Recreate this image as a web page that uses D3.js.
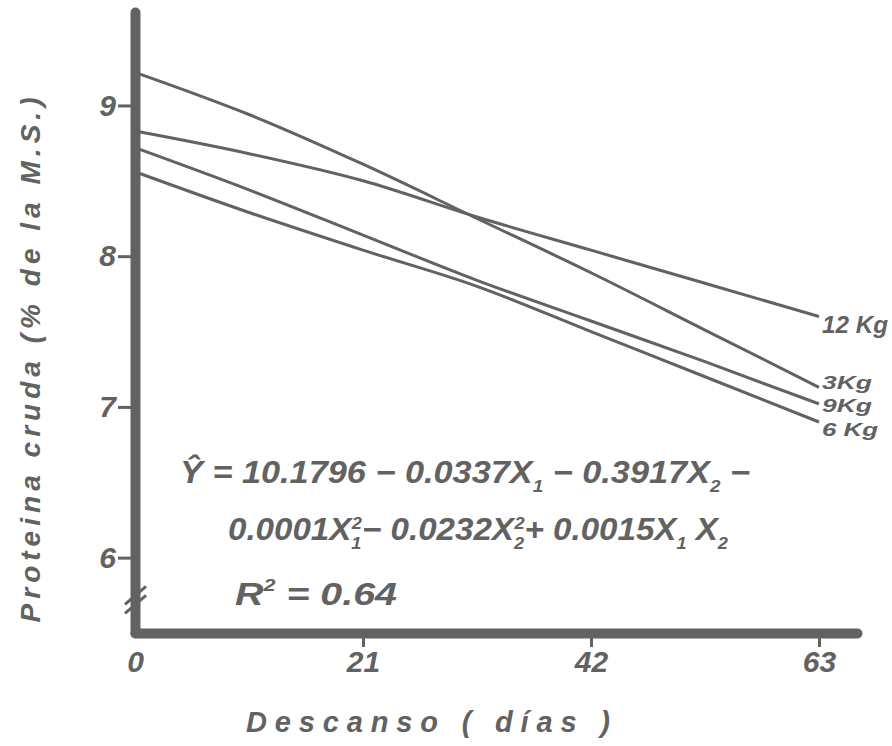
<!DOCTYPE html>
<html>
<head>
<meta charset="utf-8">
<script src="https://cdn.jsdelivr.net/npm/d3@7"></script>
<style>
  body { margin: 0; background: #fff; }
  #graph-container text {
    font-family: "Liberation Sans", Arial, sans-serif;
    font-style: italic;
    font-weight: bold;
    fill: #626262;
  }
</style>
</head>
<body>
<div id="graph-container"></div>
<script>
// Días de descanso donde se leyeron las curvas
const days = [0, 10.5, 21, 31.5, 42, 52.5, 63];

// Proteína cruda (% de la M.S.) por nivel de N
const prot3kg = [9.22, 8.94, 8.61, 8.25, 7.89, 7.51, 7.13];
const prot12kg = [8.83, 8.68, 8.50, 8.26, 8.04, 7.82, 7.60];
const prot9kg = [8.72, 8.44, 8.14, 7.84, 7.57, 7.30, 7.02];
const prot6kg = [8.56, 8.29, 8.04, 7.80, 7.50, 7.20, 6.90];

const seriesLabels = ['3Kg', '12 Kg', '9Kg', '6 Kg'];
const yTicks = [6, 7, 8, 9];
const xTicks = [0, 21, 42, 63];

const ink = '#626262';

const series = [prot3kg, prot12kg, prot9kg, prot6kg].map((vals, i) => ({
  label: seriesLabels[i],
  points: vals.map((v, j) => ({x: days[j], y: v})),
}));

const width = 892;
const height = 746;

const svg = d3.select('#graph-container')
  .append('svg')
  .attr('width', width)
  .attr('height', height);

const xScale = d3.scaleLinear()
  .domain([0, 66.5])
  .range([135, 857]);

const yScale = d3.scaleLinear()
  .domain([5.5, 9.62])
  .range([633, 12]);

// Y axis
const yAxis = d3.axisLeft(yScale)
  .tickValues(yTicks)
  .tickSizeInner(17)
  .tickSizeOuter(0)
  .tickPadding(2)
  .tickFormat(d3.format('d'));

const gy = svg.append('g')
  .attr('transform', `translate(${xScale(0)},0)`)
  .call(yAxis);
gy.select('.domain')
  .attr('stroke', ink)
  .attr('stroke-width', 10)
  .attr('stroke-linecap', 'round');
gy.selectAll('.tick line')
  .attr('stroke', ink)
  .attr('stroke-width', 3);
gy.selectAll('.tick text')
  .attr('fill', ink)
  .style('font-size', '30px');

// X axis
const xAxis = d3.axisBottom(xScale)
  .tickValues(xTicks)
  .tickSizeInner(14)
  .tickSizeOuter(0)
  .tickPadding(4)
  .tickFormat(d3.format('d'));

const gx = svg.append('g')
  .attr('transform', `translate(0,${yScale(5.5)})`)
  .call(xAxis);
gx.select('.domain')
  .attr('stroke', ink)
  .attr('stroke-width', 10)
  .attr('stroke-linecap', 'round');
gx.selectAll('.tick line')
  .attr('stroke', ink)
  .attr('stroke-width', 3)
  .attr('opacity', d => d === 0 ? 0 : 1);
gx.selectAll('.tick text')
  .attr('fill', ink)
  .style('font-size', '30px');

// axis break marks
[5.75, 5.69].forEach(v => {
  svg.append('line')
    .attr('x1', xScale(0) - 10)
    .attr('x2', xScale(0) + 11)
    .attr('y1', yScale(v) + 9)
    .attr('y2', yScale(v) - 9)
    .attr('stroke', ink)
    .attr('stroke-width', 3);
});

// Curves
const lineFunction = d3.line()
  .x(d => xScale(d.x))
  .y(d => yScale(d.y))
  .curve(d3.curveMonotoneX);

svg.append('g')
  .selectAll('path')
  .data(series)
  .join('path')
  .attr('d', d => lineFunction(d.points))
  .attr('fill', 'none')
  .attr('stroke', ink)
  .attr('stroke-width', 3);

// end labels (the three lower ones sit tightly stacked)
const labelShift = [-5, 8, 1, 7];
const labelLen = [50, 66, 50, 56];
const labelSize = [19, 24, 19, 19];
svg.append('g')
  .selectAll('text')
  .data(series)
  .join('text')
  .attr('x', d => xScale(63) + 3)
  .attr('y', (d, i) => yScale(d.points[d.points.length - 1].y) + labelShift[i])
  .attr('dy', '0.35em')
  .attr('textLength', (d, i) => labelLen[i])
  .attr('lengthAdjust', 'spacingAndGlyphs')
  .style('font-size', (d, i) => labelSize[i] + 'px')
  .text(d => d.label);

// Axis titles
svg.append('text')
  .attr('transform', 'translate(40,360) rotate(-90)')
  .attr('text-anchor', 'middle')
  .attr('textLength', 525)
  .attr('lengthAdjust', 'spacing')
  .style('font-size', '28px')
  .text('Proteina  cruda  (% de  la  M.S.)');

svg.append('text')
  .attr('x', 428)
  .attr('y', 732)
  .attr('text-anchor', 'middle')
  .attr('textLength', 364)
  .attr('lengthAdjust', 'spacing')
  .style('font-size', '29px')
  .text('Descanso  ( días )');

// Regression equation
function eqLine(x, y, len, parts) {
  const t = svg.append('text')
    .attr('x', x)
    .attr('y', y)
    .attr('textLength', len)
    .attr('lengthAdjust', 'spacingAndGlyphs')
    .style('font-size', '31px');
  parts.forEach(p => {
    const s = t.append('tspan').text(p[0]);
    if (p[1] === 'sub') {
      s.attr('dy', 9).style('font-size', '17px');
    } else if (p[1] === 'sup') {
      s.attr('dy', -14).style('font-size', '17px');
    }
    if (p[2] !== undefined) s.attr('dx', p[2]);
    if (p[3] !== undefined) s.attr('dy', p[3]);
  });
  return t;
}

eqLine(180, 483, 570, [
  ['Ŷ = 10.1796 − 0.0337X'],
  ['1', 'sub'],
  [' − 0.3917X', null, 0, -9],
  ['2', 'sub'],
  [' −', null, 0, -9],
]);

eqLine(228, 540, 500, [
  ['0.0001X'],
  ['1', 'sub'],
  ['2', 'sup', -9, -20],
  ['− 0.0232X', null, 0, 11],
  ['2', 'sub'],
  ['2', 'sup', -9, -20],
  ['+ 0.0015X', null, 0, 11],
  ['1', 'sub'],
  [' X', null, 0, -9],
  ['2', 'sub'],
]);

eqLine(235, 605, 162, [
  ['R'],
  ['2', 'sup'],
  [' = 0.64', null, 0, 14],
]);
</script>
</body>
</html>
